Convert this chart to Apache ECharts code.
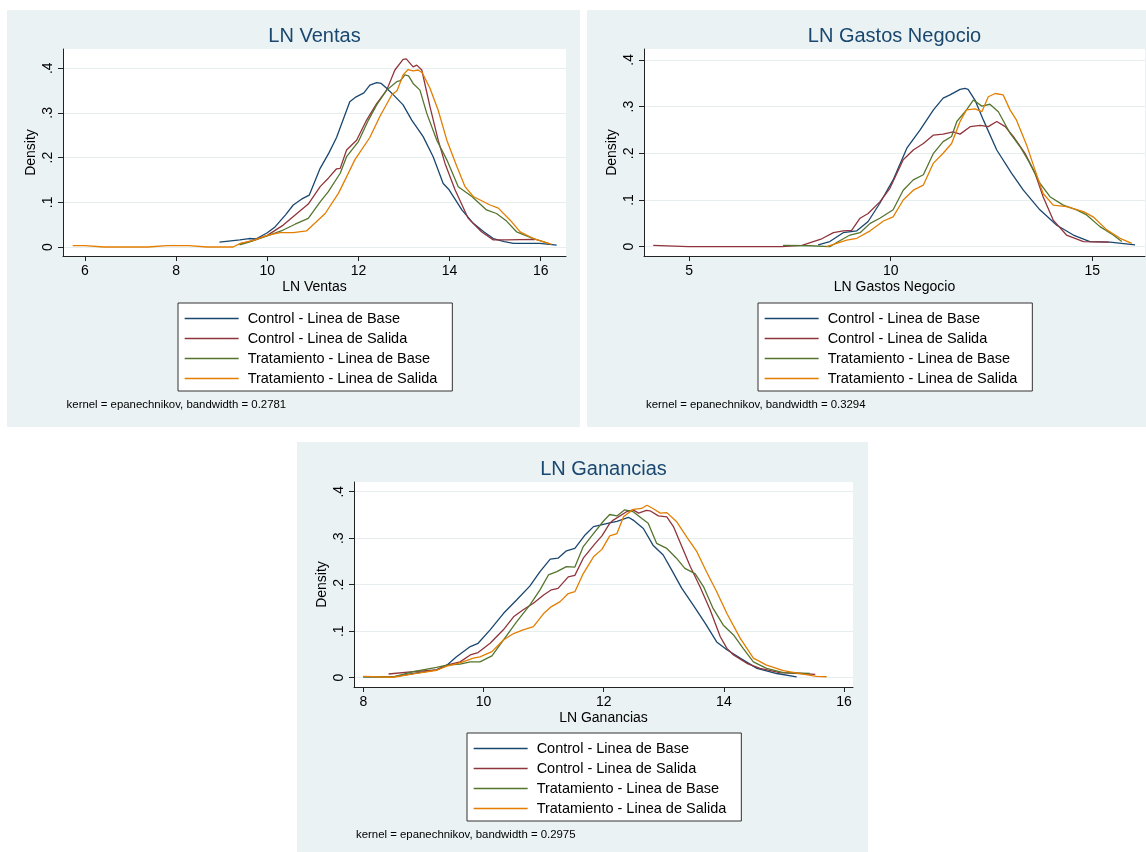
<!DOCTYPE html>
<html>
<head>
<meta charset="utf-8">
<script src="https://cdn.jsdelivr.net/npm/echarts@6/dist/echarts.min.js"></script>
<style>
html,body{margin:0;padding:0;background:#fff;}
#chart{width:1146px;height:852px;}
</style>
</head>
<body>
<div id="chart"></div>
<script>
// ---------- DATA ----------
const seriesNames = ['Control - Linea de Base', 'Control - Linea de Salida', 'Tratamiento - Linea de Base', 'Tratamiento - Linea de Salida'];
const panelTitles = ['LN Ventas', 'LN Gastos Negocio', 'LN Ganancias'];
const panelNotes = ['kernel = epanechnikov, bandwidth = 0.2781', 'kernel = epanechnikov, bandwidth = 0.3294', 'kernel = epanechnikov, bandwidth = 0.2975'];
const yTicks = [0, 0.1, 0.2, 0.3, 0.4];
const ventasXTicks = [6, 8, 10, 12, 14, 16];
const gastosXTicks = [5, 10, 15];
const gananciasXTicks = [8, 10, 12, 14, 16];

// LN Ventas
const ventas_ctrlBase = [[8.95,.011],[9.4,.016],[9.6,.019],[9.75,.018],[10.0,.032],[10.17,.045],[10.4,.072],[10.57,.094],[10.75,.107],[10.92,.116],[11.16,.176],[11.35,.21],[11.52,.245],[11.81,.325],[11.95,.336],[12.12,.345],[12.25,.362],[12.4,.368],[12.5,.366],[12.62,.355],[12.8,.337],[12.98,.318],[13.17,.284],[13.42,.247],[13.64,.202],[13.86,.142],[13.99,.128],[14.27,.083],[14.52,.053],[14.75,.034],[14.96,.019],[15.2,.012],[15.4,.008],[15.98,.008],[16.35,.004]];
const ventas_ctrlSal = [[9.39,.007],[9.6,.012],[10.0,.026],[10.35,.049],[10.65,.075],[10.9,.096],[11.16,.135],[11.34,.154],[11.52,.175],[11.6,.176],[11.74,.217],[11.96,.239],[12.18,.284],[12.4,.321],[12.62,.351],[12.8,.396],[12.98,.420],[13.05,.421],[13.2,.403],[13.28,.407],[13.39,.396],[13.57,.314],[13.75,.239],[13.9,.187],[14.12,.128],[14.41,.064],[14.7,.034],[14.96,.016],[15.25,.016],[15.84,.017],[15.87,.016]];
const ventas_tratBase = [[9.39,.005],[9.6,.011],[10.0,.025],[10.35,.038],[10.61,.051],[10.9,.064],[11.16,.101],[11.34,.124],[11.6,.165],[11.74,.202],[12.0,.236],[12.22,.284],[12.4,.318],[12.62,.351],[12.84,.37],[12.92,.372],[13.02,.385],[13.1,.383],[13.2,.366],[13.35,.351],[13.5,.299],[13.72,.239],[13.94,.195],[14.19,.135],[14.49,.113],[14.81,.083],[15.03,.075],[15.25,.058],[15.47,.034],[15.84,.019],[16.17,.008]];
const ventas_tratSal = [[5.73,.003],[6.0,.003],[6.41,.0],[7.38,.0],[7.79,.003],[8.28,.003],[8.68,.0],[9.25,.0],[9.41,.008],[9.7,.015],[10.0,.026],[10.28,.032],[10.57,.032],[10.86,.036],[11.27,.075],[11.56,.12],[11.74,.157],[11.92,.195],[12.25,.245],[12.47,.292],[12.73,.340],[12.85,.35],[12.98,.385],[13.09,.397],[13.2,.394],[13.31,.396],[13.4,.39],[13.57,.355],[13.75,.306],[13.94,.239],[14.16,.18],[14.34,.135],[14.52,.113],[14.89,.094],[15.07,.087],[15.33,.06],[15.55,.034],[15.84,.019],[16.24,.006]];

// LN Gastos Negocio
const gastos_ctrlBase = [[8.2,.004],[8.49,.011],[8.82,.03],[9.16,.034],[9.44,.054],[9.73,.093],[10.06,.143],[10.4,.211],[10.73,.25],[11.06,.293],[11.3,.318],[11.47,.325],[11.72,.337],[11.84,.339],[11.92,.337],[12.09,.314],[12.3,.271],[12.63,.207],[13.0,.157],[13.29,.121],[13.7,.079],[14.12,.046],[14.53,.025],[14.94,.011],[15.44,.01],[16.06,.004]];
const gastos_ctrlSal = [[4.11,.003],[4.98,.0],[7.3,.0],[7.8,.003],[8.08,.011],[8.29,.017],[8.58,.03],[8.82,.034],[9.03,.035],[9.24,.061],[9.44,.071],[9.73,.096],[9.98,.125],[10.31,.186],[10.56,.207],[10.81,.221],[11.06,.239],[11.3,.241],[11.55,.246],[11.72,.241],[11.97,.257],[12.22,.26],[12.42,.257],[12.63,.268],[12.84,.257],[13.04,.236],[13.33,.2],[13.58,.157],[13.78,.107],[14.03,.057],[14.36,.025],[14.78,.011],[15.41,.01]];
const gastos_tratBase = [[7.33,.003],[8.0,.002],[8.49,.0],[8.66,.009],[8.99,.025],[9.24,.03],[9.49,.05],[9.73,.061],[10.06,.079],[10.31,.121],[10.56,.143],[10.81,.154],[11.06,.2],[11.3,.225],[11.51,.236],[11.64,.268],[11.88,.293],[12.05,.314],[12.26,.301],[12.46,.305],[12.67,.289],[12.96,.243],[13.21,.214],[13.45,.179],[13.7,.136],[13.95,.107],[14.28,.089],[14.61,.079],[14.86,.068],[15.19,.043],[15.52,.025],[15.73,.011]];
const gastos_tratSal = [[8.41,.0],[8.66,.007],[8.91,.014],[9.16,.018],[9.49,.034],[9.82,.055],[10.06,.064],[10.31,.1],[10.56,.121],[10.81,.132],[11.06,.179],[11.3,.2],[11.51,.221],[11.72,.268],[11.88,.293],[12.09,.295],[12.26,.289],[12.42,.321],[12.59,.328],[12.79,.325],[12.96,.293],[13.12,.271],[13.37,.218],[13.58,.164],[13.78,.114],[14.03,.089],[14.36,.086],[14.78,.075],[15.02,.064],[15.36,.036],[15.69,.018],[15.98,.007]];

// LN Ganancias
const gan_ctrlBase = [[8.0,.002],[8.5,.002],[8.83,.009],[9.22,.017],[9.39,.027],[9.55,.045],[9.78,.067],[9.91,.074],[10.11,.103],[10.33,.138],[10.55,.167],[10.77,.197],[10.94,.228],[11.11,.255],[11.24,.257],[11.38,.273],[11.52,.278],[11.69,.307],[11.83,.325],[11.94,.328],[12.1,.333],[12.22,.336],[12.41,.345],[12.49,.339],[12.66,.321],[12.82,.285],[12.99,.264],[13.13,.232],[13.3,.192],[13.49,.156],[13.69,.117],[13.88,.077],[14.05,.06],[14.27,.042],[14.55,.02],[14.88,.009],[15.21,.002]];
const gan_ctrlSal = [[8.42,.008],[8.83,.013],[9.22,.017],[9.39,.027],[9.61,.034],[9.78,.049],[9.91,.054],[10.11,.074],[10.33,.103],[10.5,.131],[10.66,.146],[10.83,.16],[11.0,.178],[11.13,.189],[11.24,.192],[11.41,.217],[11.52,.22],[11.66,.257],[11.86,.289],[11.97,.305],[12.1,.332],[12.16,.339],[12.38,.357],[12.49,.361],[12.58,.354],[12.71,.36],[12.77,.359],[12.91,.348],[13.05,.346],[13.16,.325],[13.3,.282],[13.44,.239],[13.6,.196],[13.77,.146],[13.94,.088],[14.05,.063],[14.16,.049],[14.38,.031],[14.6,.02],[14.93,.011],[15.27,.009],[15.52,.007]];
const gan_tratBase = [[8.0,.002],[8.5,.002],[8.83,.013],[9.22,.022],[9.39,.027],[9.61,.029],[9.78,.034],[9.94,.034],[10.14,.047],[10.33,.081],[10.55,.12],[10.77,.156],[10.94,.189],[11.08,.221],[11.22,.228],[11.38,.239],[11.52,.238],[11.66,.282],[11.83,.31],[11.99,.336],[12.1,.351],[12.22,.348],[12.35,.361],[12.49,.357],[12.63,.343],[12.74,.332],[12.88,.289],[13.05,.278],[13.21,.257],[13.35,.235],[13.52,.224],[13.66,.196],[13.82,.149],[13.99,.113],[14.16,.092],[14.32,.063],[14.49,.034],[14.71,.02],[14.99,.011],[15.43,.009]];
const gan_tratSal = [[8.0,.003],[8.5,.001],[8.83,.008],[9.22,.016],[9.39,.025],[9.61,.032],[9.83,.042],[9.94,.045],[10.14,.056],[10.33,.081],[10.5,.095],[10.66,.103],[10.83,.11],[11.0,.138],[11.13,.153],[11.27,.163],[11.41,.181],[11.52,.185],[11.66,.224],[11.83,.26],[11.97,.276],[12.1,.305],[12.22,.31],[12.33,.346],[12.49,.362],[12.63,.364],[12.72,.371],[12.82,.364],[12.94,.354],[13.05,.355],[13.21,.336],[13.38,.303],[13.55,.271],[13.71,.228],[13.88,.185],[14.05,.138],[14.27,.085],[14.49,.042],[14.71,.027],[14.99,.015],[15.27,.009],[15.54,.003],[15.71,.002]];

// ---------- LAYOUT / STYLE ----------
const colors = ['#1a476f', '#90353b', '#55752f', '#e37e00'];
const FONT = '"Liberation Sans", Arial, Helvetica, sans-serif';
const panelData = [
  [ventas_ctrlBase, ventas_ctrlSal, ventas_tratBase, ventas_tratSal],
  [gastos_ctrlBase, gastos_ctrlSal, gastos_tratBase, gastos_tratSal],
  [gan_ctrlBase, gan_ctrlSal, gan_tratBase, gan_tratSal]
];
const panelXTicks = [ventasXTicks, gastosXTicks, gananciasXTicks];
const layout = [
  {bg:[7,10,573,417], grid:{left:63, top:49, width:503, height:207}, x:[5.517,16.555], y:[-0.0201,0.443], title:{cx:314.5, top:26.5}, legend:{left:178, top:303}, note:{left:66.6, top:399.5}},
  {bg:[587,10,559,417], grid:{left:644, top:49, width:501, height:207}, x:[3.881,16.307], y:[-0.0199,0.4233], title:{cx:894.5, top:26.5}, legend:{left:758, top:303}, note:{left:646, top:399.5}},
  {bg:[297,442,571,410], grid:{left:354, top:482, width:499, height:205}, x:[7.845,16.148], y:[-0.0200,0.4209], title:{cx:603.5, top:459}, legend:{left:467, top:733}, note:{left:356, top:829}}
];

const grids = [], xAxes = [], yAxes = [], series = [], titles = [], legends = [], graphics = [];
const axisCol = '#222';
layout.forEach((L, i) => {
  graphics.push({type:'rect', silent:true, z:-10, shape:{x:L.bg[0], y:L.bg[1], width:L.bg[2], height:L.bg[3]}, style:{fill:'#eaf2f3'}});
  grids.push(Object.assign({show:true, backgroundColor:'#ffffff', borderWidth:0, containLabel:false}, L.grid));
  xAxes.push({
    gridIndex:i, type:'value', min:L.x[0], max:L.x[1],
    name: panelTitles[i], nameLocation:'middle', nameGap:24,
    nameTextStyle:{fontSize:14, color:'#000', fontFamily:FONT},
    axisLine:{show:true, onZero:false, lineStyle:{color:axisCol, width:1}},
    axisTick:{show:true, length:5, customValues:panelXTicks[i], lineStyle:{color:axisCol, width:1}},
    axisLabel:{customValues:panelXTicks[i], margin:8, fontSize:14, color:'#000', fontFamily:FONT},
    splitLine:{show:false}
  });
  yAxes.push({
    gridIndex:i, type:'value', min:L.y[0], max:L.y[1],
    name:'Density', nameLocation:'middle', nameGap:25, nameRotate:90,
    nameTextStyle:{fontSize:14, color:'#000', fontFamily:FONT},
    axisLine:{show:true, onZero:false, lineStyle:{color:axisCol, width:1}},
    axisTick:{show:true, length:5, customValues:yTicks, lineStyle:{color:axisCol, width:1}},
    axisLabel:{customValues:yTicks, rotate:90, margin:8, fontSize:14, color:'#000', fontFamily:FONT,
      formatter: v => (Math.abs(v) < 1e-9 ? '0' : String(Math.round(v*10)/10).replace(/^0/, ''))},
    splitLine:{show:true, lineStyle:{color:'#e6eef0', width:1}}
  });
  panelData[i].forEach((d, k) => {
    series.push({
      type:'line', name:seriesNames[k], xAxisIndex:i, yAxisIndex:i, data:d,
      symbol:'none', showSymbol:false, smooth:false, animation:false,
      lineStyle:{color:colors[k], width:1.3}, itemStyle:{color:colors[k]}
    });
  });
  titles.push({text:panelTitles[i], left:L.title.cx, top:L.title.top, textAlign:'center', padding:0,
    textStyle:{fontSize:20, fontWeight:'normal', color:'#1a476f', fontFamily:FONT}});
  titles.push({text:panelNotes[i], left:L.note.left, top:L.note.top, padding:0,
    textStyle:{fontSize:11.4, fontWeight:'normal', color:'#000', fontFamily:FONT}});
  legends.push({
    data:seriesNames, orient:'vertical', left:L.legend.left, top:L.legend.top,
    itemWidth:54, itemHeight:14, itemGap:5, padding:[8,15,5,6],
    backgroundColor:'#ffffff', borderColor:'#333', borderWidth:1, borderRadius:0,
    selectedMode:false,
    itemStyle:{opacity:0},
    lineStyle:{width:1.3},
    textStyle:{fontSize:14.5, lineHeight:14, color:'#000', fontFamily:FONT, padding:[0,0,0,4]}
  });
});

const chart = echarts.init(document.getElementById('chart'), null, {renderer:'canvas'});
chart.setOption({
  animation:false,
  backgroundColor:'#ffffff',
  textStyle:{fontFamily:FONT},
  title:titles,
  legend:legends,
  grid:grids,
  xAxis:xAxes,
  yAxis:yAxes,
  series:series,
  graphic:{elements:graphics}
});
</script>
</body>
</html>
